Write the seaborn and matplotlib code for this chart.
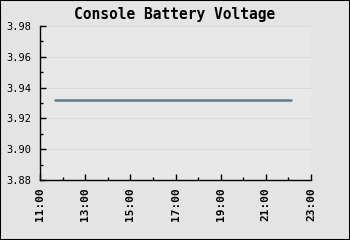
import matplotlib
matplotlib.use("Agg")
import matplotlib.pyplot as plt
import matplotlib.dates as mdates
from matplotlib.ticker import MultipleLocator
import seaborn as sns
import pandas as pd

title = "Console Battery Voltage"
times = ["2024-01-01 11:40", "2024-01-01 14:00", "2024-01-01 17:00", "2024-01-01 20:00", "2024-01-01 22:08"]
voltage = [3.932, 3.932, 3.932, 3.932, 3.932]
x_min, x_max = "2024-01-01 11:00", "2024-01-01 23:00"
y_min, y_max = 3.88, 3.98

df = pd.DataFrame({"time": pd.to_datetime(times), "voltage": voltage})

sns.set_style("white")
plt.rcParams['font.family'] = ['DejaVu Sans Mono', 'DejaVu Sans']
plt.rcParams['text.color'] = 'black'
plt.rcParams['xtick.color'] = 'black'
plt.rcParams['ytick.color'] = 'black'

fig = plt.figure(figsize=(3.5, 2.4), dpi=100, facecolor="#e4e4e4")
ax = fig.add_axes([40/350, 1-180/240, 271/350, 154/240])
ax.set_facecolor("#e8e8e8")

sns.lineplot(data=df, x="time", y="voltage", ax=ax, color="#5f7d8c", linewidth=1.8)

ax.set_xlim(pd.Timestamp(x_min), pd.Timestamp(x_max))
ax.set_ylim(y_min, y_max)
ax.xaxis.set_major_locator(mdates.HourLocator(byhour=range(11, 24, 2)))
ax.xaxis.set_minor_locator(mdates.HourLocator())
ax.xaxis.set_major_formatter(mdates.DateFormatter("%H:%M"))
ax.yaxis.set_major_locator(MultipleLocator(0.02))
ax.yaxis.set_minor_locator(MultipleLocator(0.01))
ax.yaxis.set_major_formatter(plt.FormatStrFormatter("%.2f"))

ax.grid(axis="y", which="major", color="#d9d9d9", linewidth=0.8)
ax.set_axisbelow(True)
for s in ["top", "right"]:
    ax.spines[s].set_visible(False)
for s in ["left", "bottom"]:
    ax.spines[s].set_color("black")
    ax.spines[s].set_linewidth(1.0)

ax.tick_params(axis="both", which="both", bottom=True, left=True, top=False, right=False)
ax.tick_params(axis="both", which="major", direction="in", length=4.5, width=1, color="black", labelcolor="black")
ax.tick_params(axis="both", which="minor", direction="in", length=2.5, width=1, color="black")
ax.tick_params(axis="y", labelsize=7.5, pad=6)
ax.tick_params(axis="x", labelsize=8, pad=5, rotation=90)
for lbl in ax.get_xticklabels():
    lbl.set_fontweight("bold")
ax.set_xlabel("")
ax.set_ylabel("")

fig.text(175/350, 1-14/240, title, ha="center", va="center", fontsize=10.5,
         fontweight="bold", color="black")

border = plt.Rectangle((0, 0), 1, 1, transform=fig.transFigure, fill=False,
                       edgecolor="black", linewidth=1.5)
fig.patches.append(border)

fig.savefig("out.png", dpi=100, facecolor=fig.get_facecolor())
